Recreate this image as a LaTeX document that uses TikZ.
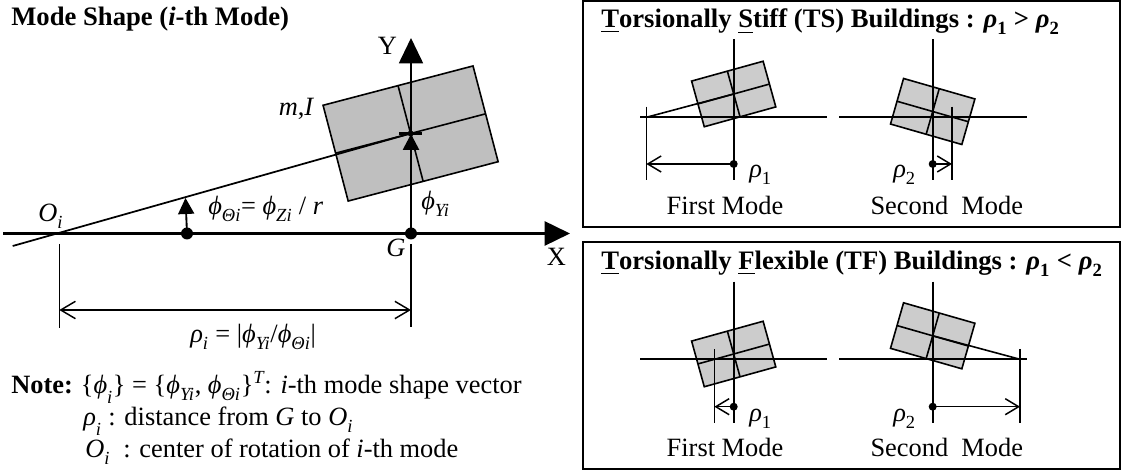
\documentclass[tikz,border=0pt]{standalone}
\usepackage{amsmath}
\usepackage{fontspec}
\setmainfont{Liberation Serif}
\usetikzlibrary{arrows.meta}

\newcommand{\phig}{\text{\itshape ϕ}}
\newcommand{\rhog}{\text{\itshape ρ}}
\newcommand{\sbi}[1]{_{\text{\itshape #1}}}
\newcommand{\sbl}[1]{_{\raisebox{-2pt}{$\scriptstyle\text{\itshape #1}$}}}
\newcommand{\planbox}[4]{%
  \begin{scope}[shift={(#1)},rotate=#2]
    \draw[#3] (-#4*1.566,-#4) rectangle (#4*1.566,#4);
    \draw[thinline] (-#4*1.566,0) -- (#4*1.566,0);
    \draw[thinline] (0,-#4) -- (0,#4);
  \end{scope}}

\tikzset{
  thinline/.style={line width=1.2pt},
  heavyline/.style={line width=2pt},
  bigplan/.style={thinline, fill=black!25},
  smallplan/.style={thinline, fill=black!20},
  dimline/.style={line width=1.1pt, {Straight Barb[length=11pt,width=13pt]}-{Straight Barb[length=11pt,width=13pt]}},
  dimarrow/.style={line width=1.1pt, -{Straight Barb[length=10pt,width=12pt]}},
  bigtip/.style={-{Triangle[length=19pt,width=18pt]}},
  midtip/.style={-{Triangle[length=12pt,width=12pt]}},
  label/.style={inner sep=0pt, anchor=base west},
  midlabel/.style={inner sep=0pt, anchor=base},
  headlabel/.style={label, font=\fontsize{20}{24}\selectfont\bfseries},
  panel/.style={line width=1.5pt}
}

\begin{document}
\begin{tikzpicture}[x=0.75pt, y=-0.75pt, font=\fontsize{19.8}{23}\selectfont]
  \useasboundingbox (0,0) rectangle (1122,473);

  % Main plan
  \planbox{410.6,133.5}{14.7}{bigplan}{49.5}
  \draw[line width=1.3pt] (12.7,246) -- (410.6,133.5);
  \draw[heavyline] (399,133.5) -- (422,133.5);

  % Axes
  \draw[heavyline, bigtip] (3,233.5) -- (570,233.5);
  \draw[line width=1.4pt, bigtip] (411,233.5) -- (411,38);
  \draw[heavyline, midtip] (411,233.5) -- (411,134);
  \draw[line width=1.4pt, midtip] (187,233.5) -- (185.5,198);
  \fill (187,233.5) circle (6);
  \fill (411,233.5) circle (6);
  \fill (410.6,133.5) circle (3);

  % Distance
  \draw[thinline] (59.3,244) -- (59.3,328);
  \draw[thinline] (411,244) -- (411,327);
  \draw[dimline] (59.3,310) -- (411,310);

  % Main labels
  \node[headlabel] (title) at (11,26) {Mode Shape (\textit{i}-th Mode)};
  \node[label] (axisy) at (377.5,55) {Y};
  \node[label] (axisx) at (546.5,266) {X};
  \node[label] (mass) at (278.5,116) {\textit{m},\textit{I}};
  \node[label] (centre) at (38,221.7) {\textit{O}$\sbl{i}$};
  \node[label] (rotation) at (208,215) {$\phig\sbi{Θi}$= $\phig\sbi{Zi}$ / \textit{r}};
  \node[label] (shift) at (421,210) {$\phig\sbi{Yi}$};
  \node[label] (mass centre) at (386,256.7) {\textit{G}};
  \node[label] (radius) at (190,343) {$\rhog\sbi{i}$ = |$\phig\sbi{Yi}$/$\phig\sbi{Θi}$|};

  % Note
  \node[label] (note) at (11,394) {\textbf{Note:}\hspace{6pt}\{$\phig\sbl{i}$\} = \{$\phig\sbi{Yi}$, $\phig\sbi{Θi}$\}$^{\text{\itshape T}}$: \textit{i}-th mode shape vector};
  \node[label] (note rho) at (83,426) {$\rhog\sbl{i}$ : distance from \textit{G} to \textit{O}$\sbl{i}$};
  \node[label] (note o) at (85,458) {\textit{O}$\sbl{i}$ \ : center of rotation of \textit{i}-th mode};

  % Stiff panel
  \draw[panel] (583.4,1) rectangle (1120,226.7);
  \node[headlabel] (ts title) at (601,28) {\underline{T}orsionally \underline{S}tiff (TS) Buildings : $\rhog_{\text{1}}$ > $\rhog_{\text{2}}$};
  \planbox{733.7,94}{15.5}{smallplan}{23.7}
  \planbox{932.7,111.5}{-16}{smallplan}{23.7}
  \draw[thinline] (646.4,117.3) -- (733.7,94);
  \draw[thinline] (640.4,117.3) -- (827,117.3);
  \draw[thinline] (839.4,117.3) -- (1027,117.3);
  \draw[thinline] (733.7,39.3) -- (733.7,180);
  \draw[thinline] (932.7,39.3) -- (932.7,180);
  \draw[thinline] (646.4,106.7) -- (646.4,180);
  \draw[thinline] (952,106.7) -- (952,180);
  \fill (733.7,164) circle (4);
  \fill (932.7,164) circle (4);
  \draw[dimarrow] (733.7,164) -- (646.4,164);
  \draw[dimarrow] (932.7,164) -- (952,164);
  \node[label] (ts rho one) at (749,178) {$\rhog_{\text{1}}$};
  \node[label] (ts rho two) at (893,178) {$\rhog_{\text{2}}$};
  \node[midlabel] (ts first) at (725,215) {First Mode};
  \node[midlabel] (ts second) at (946.8,215) {Second\ \ Mode};

  % Flexible panel
  \draw[panel] (583.4,241.7) rectangle (1120,469);
  \node[headlabel] (tf title) at (601,270) {\underline{T}orsionally \underline{F}lexible (TF) Buildings : $\rhog_{\text{1}}$ < $\rhog_{\text{2}}$};
  \planbox{733.7,354}{15.5}{smallplan}{23.7}
  \planbox{932.7,335.8}{-16}{smallplan}{23.7}
  \draw[thinline] (932.7,335.8) -- (1020,359.3);
  \draw[thinline] (640.4,359.3) -- (827,359.3);
  \draw[thinline] (839.4,359.3) -- (1027,359.3);
  \draw[thinline] (733.7,281.7) -- (733.7,422.7);
  \draw[thinline] (932.7,281.7) -- (932.7,422.7);
  \draw[thinline] (714.4,349.3) -- (714.4,422.7);
  \draw[thinline] (1020,349) -- (1020,422.7);
  \fill (733.7,406.7) circle (4);
  \fill (932.7,406.7) circle (4);
  \draw[dimarrow] (733.7,406.7) -- (714.4,406.7);
  \draw[dimarrow] (932.7,406.7) -- (1020,406.7);
  \node[label] (tf rho one) at (749,421.7) {$\rhog_{\text{1}}$};
  \node[label] (tf rho two) at (893,421.7) {$\rhog_{\text{2}}$};
  \node[midlabel] (tf first) at (725,456.7) {First Mode};
  \node[midlabel] (tf second) at (946.8,456.7) {Second\ \ Mode};
\end{tikzpicture}
\end{document}
